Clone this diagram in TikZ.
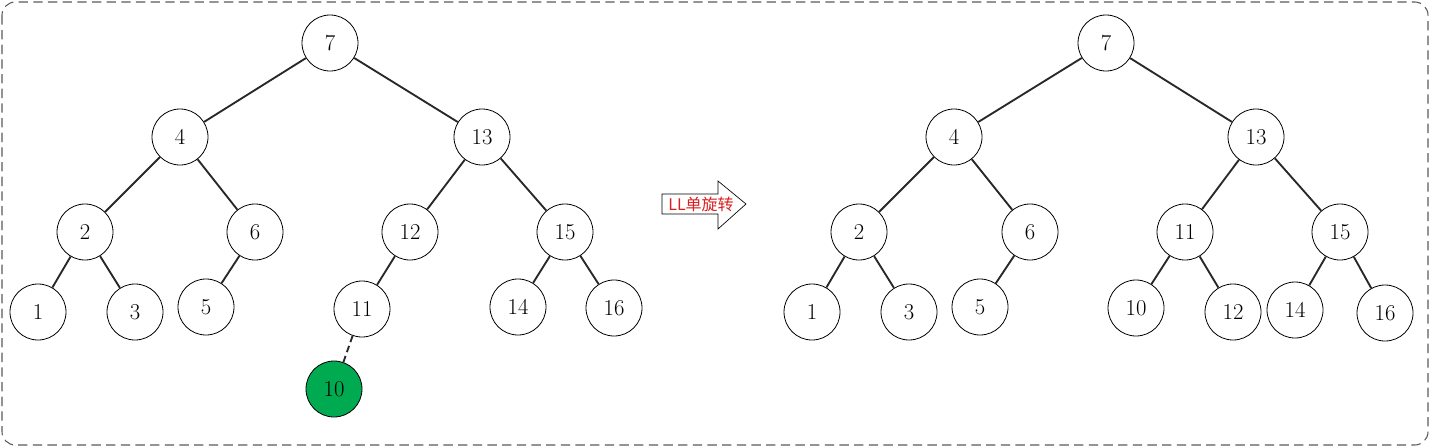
\documentclass[tikz,border=0pt]{standalone}
\usepackage{fontspec}
\newfontfamily\cjk{Noto Sans CJK SC}
\usetikzlibrary{shapes.geometric, arrows}
\definecolor{nodegreen}{RGB}{0,170,80}
\definecolor{edgegray}{RGB}{40,40,40}
\definecolor{boxgray}{RGB}{90,90,90}
\definecolor{labelred}{RGB}{220,30,30}
\tikzstyle{edge} = [edgegray, line width=1.4pt]

\begin{document}
\begin{tikzpicture}[x=0.75pt, y=-0.75pt, main/.style = {draw, circle, fill=white, line width=0.6pt, minimum size=42pt, inner sep=0pt, font=\fontsize{17}{19}\selectfont}]
\useasboundingbox (0,0) rectangle (1430,447);
\draw[boxgray, dashed, dash pattern=on 7pt off 4pt, rounded corners=10pt, line width=0.8pt] (2,2) rectangle (1428,445);

% before rotation
\node[main] (a7) at (330,43) {7};
\node[main] (a4) at (180,137) {4};
\node[main] (a13) at (482,137) {13};
\node[main] (a2) at (85,232) {2};
\node[main] (a6) at (255,232) {6};
\node[main] (a12) at (410,232) {12};
\node[main] (a15) at (565,232) {15};
\node[main] (a1) at (38,312) {1};
\node[main] (a3) at (135,312) {3};
\node[main] (a5) at (206,307) {5};
\node[main] (a11) at (362,309) {11};
\node[main] (a14) at (518,307) {14};
\node[main] (a16) at (614,308) {16};
\node[main, fill=nodegreen] (a10) at (334,389) {10};

\draw[edge] (a7) -- (a4);
\draw[edge] (a7) -- (a13);
\draw[edge] (a4) -- (a2);
\draw[edge] (a4) -- (a6);
\draw[edge] (a13) -- (a12);
\draw[edge] (a13) -- (a15);
\draw[edge] (a2) -- (a1);
\draw[edge] (a2) -- (a3);
\draw[edge] (a6) -- (a5);
\draw[edge] (a12) -- (a11);
\draw[edge] (a15) -- (a14);
\draw[edge] (a15) -- (a16);
\draw[edge, dash pattern=on 5pt off 3pt] (a11) -- (a10);

% arrow
\draw[black, line width=0.5pt, fill=white] (662,194) -- (718,194) -- (718,181) -- (746,204) -- (718,229) -- (718,214) -- (662,214) -- cycle;
\node[text=labelred, font=\cjk\fontsize{12}{13}\selectfont, inner sep=0pt] (rot) at (701,204) {LL单旋转};

% after rotation
\node[main] (b7) at (1106,43) {7};
\node[main] (b4) at (954,137) {4};
\node[main] (b13) at (1256,137) {13};
\node[main] (b2) at (859,232) {2};
\node[main] (b6) at (1030,232) {6};
\node[main] (b11) at (1185,232) {11};
\node[main] (b15) at (1340,232) {15};
\node[main] (b1) at (812,312) {1};
\node[main] (b3) at (909,312) {3};
\node[main] (b5) at (980,307) {5};
\node[main] (b10) at (1136,308) {10};
\node[main] (b12) at (1233,312) {12};
\node[main] (b14) at (1295,310) {14};
\node[main] (b16) at (1385,313) {16};

\draw[edge] (b7) -- (b4);
\draw[edge] (b7) -- (b13);
\draw[edge] (b4) -- (b2);
\draw[edge] (b4) -- (b6);
\draw[edge] (b13) -- (b11);
\draw[edge] (b13) -- (b15);
\draw[edge] (b2) -- (b1);
\draw[edge] (b2) -- (b3);
\draw[edge] (b6) -- (b5);
\draw[edge] (b11) -- (b10);
\draw[edge] (b11) -- (b12);
\draw[edge] (b15) -- (b14);
\draw[edge] (b15) -- (b16);
\end{tikzpicture}
\end{document}
